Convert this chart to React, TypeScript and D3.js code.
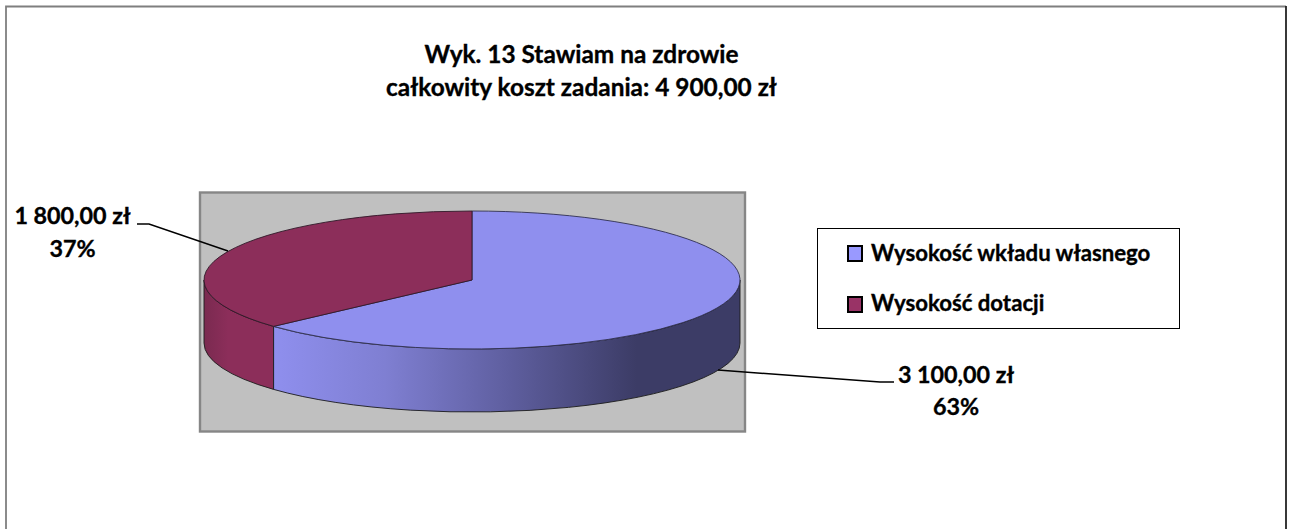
import React from "react";
import * as d3 from "d3";

const categories = ["Wysokość wkładu własnego", "Wysokość dotacji"];
const values = [3100, 1800];
const valueLabels = ["3 100,00 zł", "1 800,00 zł"];
const percentLabels = ["63%", "37%"];
const titleLines = ["Wyk. 13 Stawiam na zdrowie", "całkowity koszt zadania: 4 900,00 zł"];
const topColors = ["#8f8fee", "#8c2e5a"];
const legendColors = ["#9999ff", "#993366"];

const W = 1293, H = 529;
const cx = 472, cy = 280, rx = 268, ry = 69, depth = 63;
const font = "Lato, Carlito, sans-serif";

const pt = (a: number, dy = 0): [number, number] => [cx + rx * Math.sin(a), cy - ry * Math.cos(a) + dy];
const P = d3.pie<number>().sort(null).startAngle(0).endAngle(2 * Math.PI)(values);

function topPath(a0: number, a1: number) {
  const [x0, y0] = pt(a0), [x1, y1] = pt(a1);
  const large = a1 - a0 > Math.PI ? 1 : 0;
  return `M${cx},${cy}L${x0},${y0}A${rx},${ry} 0 ${large} 1 ${x1},${y1}Z`;
}
function sidePath(a0: number, a1: number) {
  const [x0, y0] = pt(a0), [x1, y1] = pt(a1);
  return `M${x0},${y0}A${rx},${ry} 0 0 1 ${x1},${y1}L${x1},${y1 + depth}A${rx},${ry} 0 0 0 ${x0},${y0 + depth}Z`;
}

export default function App() {
  const blue = P[0], red = P[1];
  const style = (size: number) => ({ fontFamily: font, fontWeight: 700, fontSize: size, fill: "#000", stroke: "#000", strokeWidth: 0.35 } as const);
  return (
    <svg width={W} height={H} viewBox={`0 0 ${W} ${H}`} style={{ position: "absolute", left: 0, top: 0, background: "#fff" }}>
      <defs>
        <linearGradient id="blueSide" gradientUnits="userSpaceOnUse" x1={273} x2={739} y1={0} y2={0}>
          <stop offset="0" stopColor="#8f8fee" />
          <stop offset="0.24" stopColor="#7f7fd2" />
          <stop offset="0.5" stopColor="#5f5fa0" />
          <stop offset="0.78" stopColor="#3c3c66" />
          <stop offset="1" stopColor="#3c3c66" />
        </linearGradient>
        <linearGradient id="redSide" gradientUnits="userSpaceOnUse" x1={204} x2={273} y1={0} y2={0}>
          <stop offset="0" stopColor="#7a2a50" />
          <stop offset="0.35" stopColor="#8c2e5a" />
          <stop offset="1" stopColor="#8c2e5a" />
        </linearGradient>
      </defs>
      <path d={`M6,${H}V6.5H1286`} fill="none" stroke="#7f7f7f" strokeWidth={1.8} />
      <path d={`M1286,6V${H}`} fill="none" stroke="#222" strokeWidth={1.8} />
      <rect x={200} y={192.5} width={545} height={239} fill="#c0c0c0" stroke="#868686" strokeWidth={2.4} />

      <path d={sidePath(red.startAngle, 1.5 * Math.PI)} fill="url(#redSide)" stroke="#1c1c1c" strokeWidth={0.9} />
      <path d={sidePath(Math.PI / 2, blue.endAngle)} fill="url(#blueSide)" stroke="#1c1c1c" strokeWidth={0.9} />
      <path d={topPath(blue.startAngle, blue.endAngle)} fill={topColors[0]} stroke="#303050" strokeWidth={0.9} />
      <path d={topPath(red.startAngle, red.endAngle)} fill={topColors[1]} stroke="#301828" strokeWidth={0.9} />

      <polyline points="137,224 149,224 228,251" fill="none" stroke="#000" strokeWidth={1.5} />
      <polyline points="718,370 880,382 894,382" fill="none" stroke="#000" strokeWidth={1.5} />

      {titleLines.map((t, i) => (
        <text key={t} x={581.5} y={63 + i * 33} textAnchor="middle" style={style(24.4)}>{t}</text>
      ))}

      <text x={72.5} y={224} textAnchor="middle" style={style(23.3)}>{valueLabels[1]}</text>
      <text x={72.5} y={257} textAnchor="middle" style={style(23.3)}>{percentLabels[1]}</text>
      <text x={956} y={383} textAnchor="middle" style={style(23.3)}>{valueLabels[0]}</text>
      <text x={956} y={415} textAnchor="middle" style={style(23.3)}>{percentLabels[0]}</text>

      <rect x={817.5} y={228.5} width={362} height={100} fill="#fff" stroke="#000" strokeWidth={1} />
      {categories.map((c, i) => (
        <g key={c}>
          <rect x={848} y={246 + i * 51} width={14} height={15} fill={legendColors[i]} stroke="#000" strokeWidth={2} />
          <text x={871} y={261 + i * 50} style={style(22.2)}>{c}</text>
        </g>
      ))}
    </svg>
  );
}
